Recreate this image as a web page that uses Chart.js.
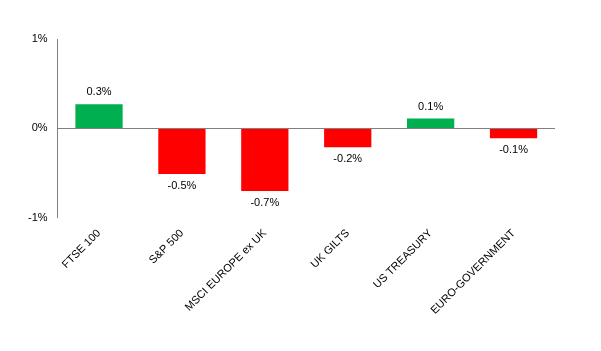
<!DOCTYPE html>
<html>
<head>
<meta charset="utf-8">
<script src="https://cdn.jsdelivr.net/npm/chart.js@4"></script>
<style>
  html, body { margin: 0; padding: 0; background: #fff; }
  #wrap { width: 601px; height: 351px; }
</style>
</head>
<body>
<div id="wrap"><canvas id="chart" width="601" height="351"></canvas></div>
<script>
const categories = ['FTSE 100', 'S&P 500', 'MSCI EUROPE ex UK', 'UK GILTS', 'US TREASURY', 'EURO-GOVERNMENT'];
const returns = [0.27, -0.51, -0.70, -0.21, 0.11, -0.11];
const yTicks = [-1, 0, 1];

const GREEN = '#00b050';
const RED = '#ff0000';
const AXIS = '#808080';

// Wertbeschriftung über/unter den Balken
const valueLabels = {
    id: 'valueLabels',
    afterDatasetsDraw(chart) {
        const ctx = chart.ctx;
        const meta = chart.getDatasetMeta(0);
        ctx.save();
        ctx.font = '11px "Liberation Sans", Arial, sans-serif';
        ctx.fillStyle = '#000';
        ctx.textAlign = 'center';
        ctx.textBaseline = 'middle';
        meta.data.forEach((bar, i) => {
            const v = returns[i];
            const y = v >= 0 ? bar.y - 12 : bar.y + 12;
            ctx.fillText(v.toFixed(1) + '%', bar.x, y);
        });
        ctx.restore();
    }
};

new Chart(document.getElementById('chart').getContext('2d'), {
    type: 'bar',
    data: {
        labels: categories,
        datasets: [{
            data: returns,
            backgroundColor: returns.map(v => v >= 0 ? GREEN : RED),
            categoryPercentage: 1,
            barPercentage: 0.57
        }]
    },
    options: {
        responsive: false,
        animation: false,
        layout: { padding: { left: 18, right: 46, top: 39, bottom: 25 } },
        plugins: {
            legend: { display: false },
            tooltip: { enabled: false }
        },
        scales: {
            x: {
                grid: { display: false, drawTicks: false },
                border: { display: false },
                ticks: {
                    color: '#000',
                    font: { family: '"Liberation Sans", Arial, sans-serif', size: 11 },
                    minRotation: 45,
                    maxRotation: 45,
                    padding: 9
                }
            },
            y: {
                min: yTicks[0],
                max: yTicks[yTicks.length - 1],
                afterBuildTicks: axis => { axis.ticks = yTicks.map(v => ({ value: v })); },
                grid: {
                    drawTicks: false,
                    color: c => c.tick && c.tick.value === 0 ? AXIS : 'rgba(0,0,0,0)',
                    lineWidth: 1
                },
                border: { display: true, color: AXIS },
                ticks: {
                    color: '#000',
                    font: { family: '"Liberation Sans", Arial, sans-serif', size: 11 },
                    padding: 10,
                    callback: v => v + '%'
                }
            }
        }
    },
    plugins: [valueLabels]
});
</script>
</body>
</html>
